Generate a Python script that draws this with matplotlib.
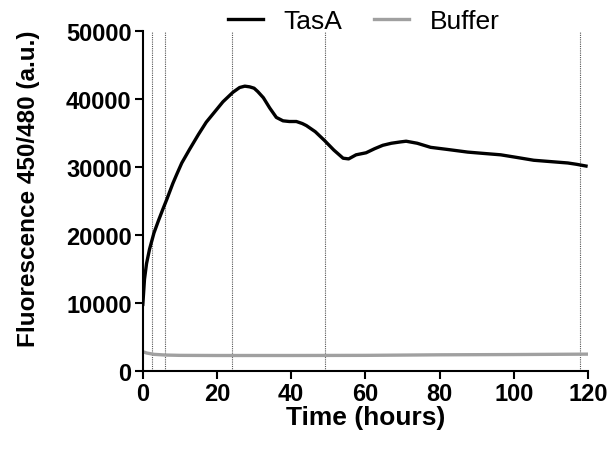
import numpy as np
import matplotlib.pyplot as plt

plt.rcParams['font.family'] = ['Liberation Sans', 'DejaVu Sans']

# TasA fluorescence
tasa_t = [0, 0.45, 1.0, 1.8, 3.0, 4.2, 5.4, 6.5, 8.1, 9.2, 10.5, 12.6, 15.0, 17.1, 19.5,
          21.6, 24.3, 26.1, 27.5, 28.8, 30.0, 31.0, 32.5, 34.2, 36.0, 37.8, 39.5,
          41.4, 43.0, 44.1, 46.5, 49.0, 51.5, 54.0, 55.5, 57.5, 60.2, 62.5, 64.7,
          67.0, 69.5, 71.0, 74.0, 77.6, 82.0, 87.6, 92.0, 96.5, 101.0, 105.4,
          110.0, 114.6, 117.0, 119.5]
tasa_y = [9800, 13500, 15800, 17900, 20300, 22100, 23800, 25300, 27600, 29000, 30600,
          32600, 34800, 36600, 38200, 39600, 41000, 41700, 41900, 41800, 41600,
          41100, 40200, 38700, 37300, 36800, 36700, 36700, 36400, 36100, 35200,
          33900, 32500, 31300, 31200, 31800, 32100, 32700, 33200, 33500, 33700,
          33800, 33500, 32900, 32600, 32200, 32000, 31800, 31400, 31000, 30800,
          30600, 30400, 30150]

# Buffer control
buf_t = [0, 0.5, 1.0, 2.0, 3.0, 4.5, 6.0, 10.0, 20.0, 40.0, 60.0, 80.0, 100.0, 120.0]
buf_y = [2800, 2750, 2650, 2550, 2450, 2400, 2350, 2300, 2280, 2280, 2300, 2380, 2420, 2480]

# time points marked with dotted lines
mark_t = [2.5, 6, 24, 49, 118]

fig = plt.figure(figsize=(6.13, 4.52), dpi=100)
ax = fig.add_axes([0.233, 0.177, 0.726, 0.752])

for t in mark_t:
    ax.axvline(t, color='#555555', lw=0.8, ls=(0, (1, 1)), zorder=1)

ax.plot(buf_t, buf_y, color='#a0a0a0', lw=2.4, label='Buffer', zorder=2)
ax.plot(tasa_t, tasa_y, color='black', lw=2.4, label='TasA', zorder=3)

ax.set_xlim(0, 120)
ax.set_ylim(0, 50000)
ax.set_xticks([0, 20, 40, 60, 80, 100, 120])
ax.set_yticks([0, 10000, 20000, 30000, 40000, 50000])
for s in ['top', 'right']:
    ax.spines[s].set_visible(False)
for s in ['left', 'bottom']:
    ax.spines[s].set_linewidth(1.5)
ax.tick_params(width=1.5, length=6, labelsize=17, pad=2)
for lab in ax.get_xticklabels() + ax.get_yticklabels():
    lab.set_fontweight('bold')

ax.set_xlabel('Time (hours)', fontsize=19, fontweight='bold', labelpad=0)
ax.set_ylabel('Fluorescence 450/480 (a.u.)', fontsize=17.5, fontweight='bold')
ax.yaxis.set_label_coords(-0.232, 0.54)

h, l = ax.get_legend_handles_labels()
ax.legend(h[::-1], l[::-1], loc='center', bbox_to_anchor=(0.497, 1.03), ncol=2,
          frameon=False, fontsize=19, handlelength=1.3, columnspacing=1.2,
          handletextpad=0.8, borderpad=0, borderaxespad=0)

fig.savefig('out.png', dpi=100)
